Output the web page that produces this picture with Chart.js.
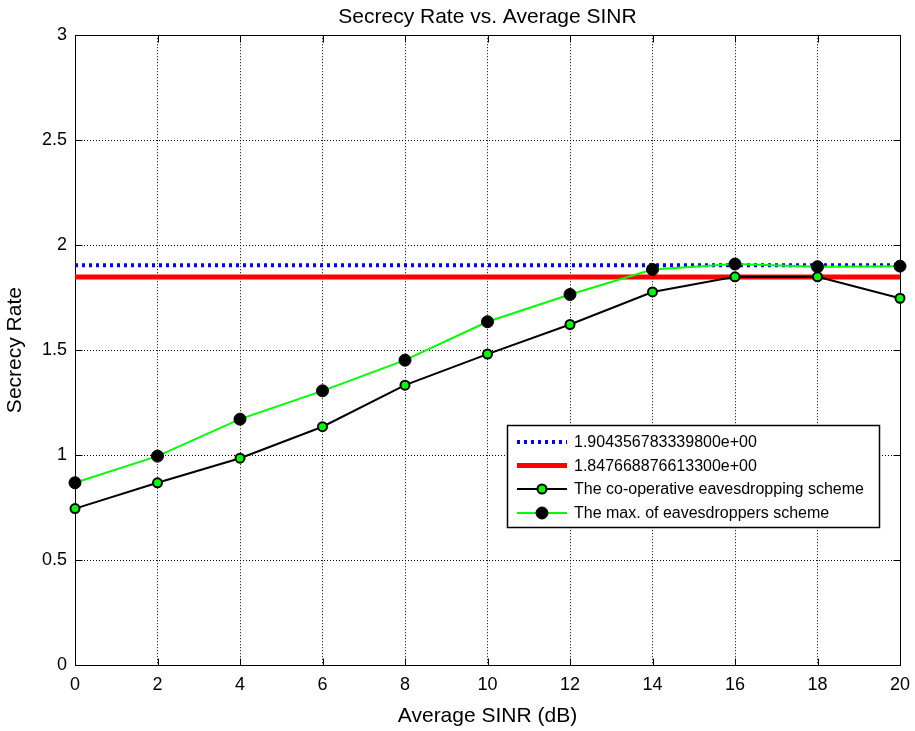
<!DOCTYPE html>
<html>
<head>
<meta charset="utf-8">
<script src="https://cdn.jsdelivr.net/npm/chart.js@4"></script>
<style>
  html, body { margin: 0; padding: 0; background: #fff; }
  #wrap { width: 915px; height: 731px; }
</style>
</head>
<body>
<div id="wrap"><canvas id="myChart" width="915" height="731"></canvas></div>
<script>
// values
let sinr = [0, 2, 4, 6, 8, 10, 12, 14, 16, 18, 20];
let coopRate = [0.745, 0.868, 0.985, 1.135, 1.333, 1.481, 1.622, 1.777, 1.849, 1.849, 1.747];
let maxRate = [0.868, 0.995, 1.171, 1.306, 1.452, 1.635, 1.765, 1.884, 1.910, 1.897, 1.900];
let upperBound = 1.904356783339800;
let lowerBound = 1.847668876613300;
let yTicks = [0, 0.5, 1, 1.5, 2, 2.5, 3];
let labels = ["1.904356783339800e+00", "1.847668876613300e+00",
  "The co-operative eavesdropping scheme", "The max. of eavesdroppers scheme"];

let fontFam = "Arial, 'Liberation Sans', sans-serif";

function toPoints(xs, ys) {
  let pts = [];
  for (let i = 0; i < xs.length; i++) {
    pts.push({x: xs[i], y: ys[i]});
  }
  return pts;
}

let upperLine = toPoints(sinr, sinr.map(() => upperBound));
let lowerLine = toPoints(sinr, sinr.map(() => lowerBound));

// center the title over the plot area instead of the whole canvas
const titleOverAxes = {
  id: "titleOverAxes",
  afterLayout(chart) {
    let tb = chart.titleBlock;
    if (!tb) return;
    tb.left = chart.chartArea.left;
    tb.right = chart.chartArea.right;
    tb.width = tb.right - tb.left;
  }
};

// frame around the plot area and inward tick marks, like matlab's box on
const boxPlugin = {
  id: "boxFrame",
  beforeDatasetsDraw(chart) {
    let a = chart.chartArea;
    let ctx = chart.ctx;
    let xs = chart.scales.x, ys = chart.scales.y;
    let L = Math.round(a.left) + 0.5, R = Math.round(a.right) + 0.5;
    let T = Math.round(a.top) + 0.5, B = Math.round(a.bottom) + 0.5;
    ctx.save();
    ctx.strokeStyle = "#000";
    ctx.lineWidth = 1;
    ctx.setLineDash([]);
    ctx.beginPath();
    xs.ticks.forEach(t => {
      let px = Math.round(xs.getPixelForValue(t.value)) + 0.5;
      ctx.moveTo(px, B); ctx.lineTo(px, B - 7);
      ctx.moveTo(px, T); ctx.lineTo(px, T + 7);
    });
    ys.ticks.forEach(t => {
      let py = Math.round(ys.getPixelForValue(t.value)) + 0.5;
      ctx.moveTo(L, py); ctx.lineTo(L + 7, py);
      ctx.moveTo(R, py); ctx.lineTo(R - 7, py);
    });
    ctx.stroke();
    ctx.strokeRect(L, T, R - L, B - T);
    ctx.restore();
  }
};

// legend box inside the plot
const insideLegend = {
  id: "insideLegend",
  afterDraw(chart) {
    let ctx = chart.ctx;
    let x0 = 507, y0 = 425, w = 372, h = 102;
    ctx.save();
    ctx.fillStyle = "#fff";
    ctx.fillRect(x0, y0, w, h);
    ctx.strokeStyle = "#000";
    ctx.lineWidth = 1.5;
    ctx.strokeRect(x0 + 0.5, y0 + 0.5, w, h);
    ctx.font = "16px " + fontFam;
    ctx.textBaseline = "middle";
    let rowY = [442, 465.5, 489, 513];
    let order = [3, 2, 1, 0]; // dataset index for each legend row
    for (let r = 0; r < 4; r++) {
      let ds = chart.data.datasets[order[r]];
      let y = rowY[r];
      ctx.beginPath();
      ctx.setLineDash(ds.borderDash || []);
      ctx.strokeStyle = ds.borderColor;
      ctx.lineWidth = ds.borderWidth;
      ctx.moveTo(517, y);
      ctx.lineTo(567, y);
      ctx.stroke();
      ctx.setLineDash([]);
      if (ds.pointRadius > 0) {
        ctx.beginPath();
        ctx.arc(542, y, ds.pointRadius, 0, Math.PI * 2);
        ctx.fillStyle = ds.pointBackgroundColor;
        ctx.fill();
        ctx.lineWidth = ds.pointBorderWidth;
        ctx.strokeStyle = ds.pointBorderColor;
        ctx.stroke();
      }
      ctx.fillStyle = "#000";
      ctx.fillText(labels[r], 574, y + 1);
    }
    ctx.restore();
  }
};

new Chart("myChart", {
  type: "line",
  data: {
    datasets: [
      {
        label: labels[3],
        data: toPoints(sinr, maxRate),
        borderColor: "#00ff00",
        borderWidth: 2,
        pointRadius: 6,
        pointBackgroundColor: "#000",
        pointBorderColor: "#000",
        pointBorderWidth: 1,
        clip: false,
        order: 1
      },
      {
        label: labels[2],
        data: toPoints(sinr, coopRate),
        borderColor: "#000",
        borderWidth: 2,
        pointRadius: 4.5,
        pointBackgroundColor: "#00ff00",
        pointBorderColor: "#000",
        pointBorderWidth: 2,
        clip: false,
        order: 2
      },
      {
        label: labels[1],
        data: lowerLine,
        borderColor: "#ff0000",
        borderWidth: 5,
        pointRadius: 0,
        order: 3
      },
      {
        label: labels[0],
        data: upperLine,
        borderColor: "#0000ff",
        borderWidth: 4,
        borderDash: [3, 4],
        pointRadius: 0,
        order: 4
      }
    ]
  },
  options: {
    responsive: false,
    animation: false,
    events: [],
    layout: { padding: { right: 15, left: 0, bottom: 0, top: 0 } },
    plugins: {
      legend: { display: false },
      tooltip: { enabled: false },
      title: {
        display: true,
        text: "Secrecy Rate vs. Average SINR",
        color: "#000",
        font: { family: fontFam, size: 21, weight: "normal" },
        padding: { top: 5, bottom: 5 }
      }
    },
    scales: {
      x: {
        type: "linear",
        min: 0,
        max: 20,
        afterFit(scale) {
          scale.height = 66;
          scale.paddingLeft = 0;
          scale.paddingRight = 0;
        },
        ticks: {
          stepSize: 2,
          color: "#000",
          padding: 9,
          font: { family: fontFam, size: 18 }
        },
        grid: { color: "#000", lineWidth: 1, drawTicks: false },
        border: { display: false, dash: [1, 2] },
        title: {
          display: true,
          text: "Average SINR (dB)",
          color: "#000",
          font: { family: fontFam, size: 21 },
          padding: { top: 0, bottom: 2 }
        }
      },
      y: {
        min: 0,
        max: 3,
        afterFit(scale) {
          scale.width = 75;
          scale.paddingTop = 0;
          scale.paddingBottom = 0;
        },
        afterBuildTicks(scale) {
          scale.ticks = yTicks.map(v => ({value: v}));
        },
        ticks: {
          color: "#000",
          padding: 8,
          font: { family: fontFam, size: 18 },
          callback: v => String(v)
        },
        grid: { color: "#000", lineWidth: 1, drawTicks: false },
        border: { display: false, dash: [1, 2] },
        title: {
          display: true,
          text: "Secrecy Rate",
          color: "#000",
          font: { family: fontFam, size: 21 },
          padding: { top: 3, bottom: 0 }
        }
      }
    }
  },
  plugins: [titleOverAxes, boxPlugin, insideLegend]
});
</script>
</body>
</html>
